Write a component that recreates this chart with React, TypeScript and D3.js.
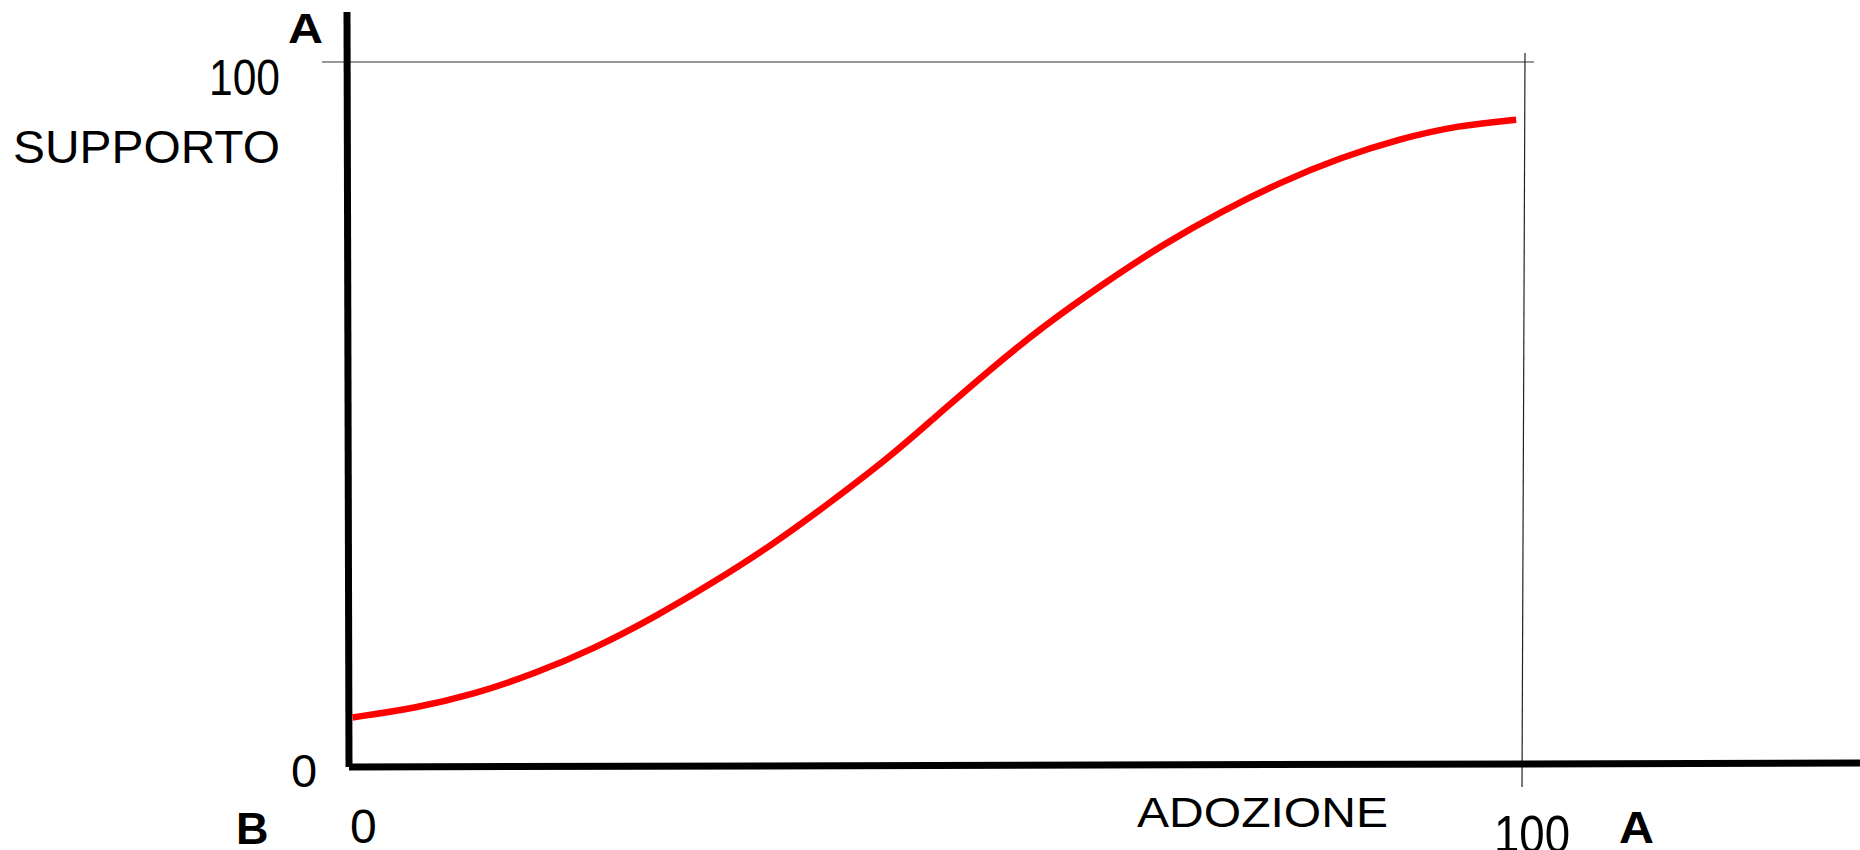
import React from "react";
import * as d3 from "d3";

// Curve (two segments with a tiny break at the middle)
const lowerX = [0.3, 5.6, 10.7, 15.8, 20.8, 25.9, 30.9, 36.0, 41.0, 46.1, 49.8];
const lowerY = [6.9, 8.2, 10.2, 13.1, 16.6, 21.0, 25.9, 31.3, 37.4, 43.9, 49.3];
const upperX = [49.8, 54.2, 59.2, 64.3, 69.4, 74.4, 79.5, 84.5, 89.6, 94.6, 99.5];
const upperY = [49.3, 55.7, 62.5, 68.5, 74.1, 78.8, 83.0, 86.4, 89.1, 91.0, 91.8];

const xTickValues = [0, 100];
const xTickLabels = ["0", "100"];
const yTickValues = [0, 100];
const yTickLabels = ["0", "100"];
const xTitle = "ADOZIONE";
const yTitle = "SUPPORTO";
const cornerLabels = ["A", "B", "A"];

const W = 1860;
const H = 850;

export default function App() {
  const x = d3.scaleLinear().domain([0, 100]).range([349, 1522]);
  const y = d3.scaleLinear().domain([0, 100]).range([766, 62]);

  const line = d3
    .line<[number, number]>()
    .x((d) => x(d[0]))
    .y((d) => y(d[1]))
    .curve(d3.curveBasis);

  const lower: [number, number][] = lowerX.map((v, i) => [v, lowerY[i]]);
  const upper: [number, number][] = upperX.map((v, i) => [v, upperY[i]]);

  const font = "'Liberation Sans', Arial, sans-serif";

  return (
    <svg
      width={W}
      height={H}
      style={{ position: "absolute", left: 0, top: 0, background: "#fff" }}
    >
      <rect x={0} y={0} width={W} height={H} fill="#fff" />
      {/* thin reference lines at 100 */}
      <line
        x1={x(0) - 27}
        x2={x(100) + 12}
        y1={y(100)}
        y2={y(100)}
        stroke="#333"
        strokeWidth={1.2}
      />
      <line
        x1={x(100) + 3}
        x2={x(100)}
        y1={y(100) - 9}
        y2={y(0) + 21}
        stroke="#222"
        strokeWidth={1.2}
      />
      {/* thick axes */}
      <line
        x1={x(0) - 2}
        x2={x(0)}
        y1={y(107.1)}
        y2={y(0) + 1}
        stroke="#000"
        strokeWidth={7}
      />
      <line
        x1={x(0)}
        x2={W}
        y1={y(0) + 1}
        y2={y(0) - 3}
        stroke="#000"
        strokeWidth={7}
      />
      {/* curve */}
      <path d={line(lower) || ""} fill="none" stroke="#ff0000" strokeWidth={6.5} />
      <path d={line(upper) || ""} fill="none" stroke="#ff0000" strokeWidth={6.5} />

      {/* y ticks */}
      <text
        x={209}
        y={y(yTickValues[1]) + 33}
        fontFamily={font}
        fontSize={50}
        textLength={71}
        lengthAdjust="spacingAndGlyphs"
      >
        {yTickLabels[1]}
      </text>
      <text x={291} y={y(yTickValues[0]) + 21} fontFamily={font} fontSize={47}>
        {yTickLabels[0]}
      </text>
      {/* x ticks */}
      <text x={x(xTickValues[0]) + 1} y={843} fontFamily={font} fontSize={48}>
        {xTickLabels[0]}
      </text>
      <text
        x={x(xTickValues[1]) - 28}
        y={852}
        fontFamily={font}
        fontSize={51}
        textLength={76}
        lengthAdjust="spacingAndGlyphs"
      >
        {xTickLabels[1]}
      </text>
      {/* titles */}
      <text
        x={13}
        y={163}
        fontFamily={font}
        fontSize={46}
        textLength={267}
        lengthAdjust="spacingAndGlyphs"
      >
        {yTitle}
      </text>
      <text
        x={1137}
        y={827}
        fontFamily={font}
        fontSize={43}
        textLength={251}
        lengthAdjust="spacingAndGlyphs"
      >
        {xTitle}
      </text>
      {/* corner letters */}
      <text
        x={288}
        y={43}
        fontFamily={font}
        fontSize={43}
        fontWeight="bold"
        textLength={35}
        lengthAdjust="spacingAndGlyphs"
      >
        {cornerLabels[0]}
      </text>
      <text x={236} y={844} fontFamily={font} fontSize={45} fontWeight="bold">
        {cornerLabels[1]}
      </text>
      <text
        x={1619}
        y={843}
        fontFamily={font}
        fontSize={44}
        fontWeight="bold"
        textLength={35}
        lengthAdjust="spacingAndGlyphs"
      >
        {cornerLabels[2]}
      </text>
    </svg>
  );
}
